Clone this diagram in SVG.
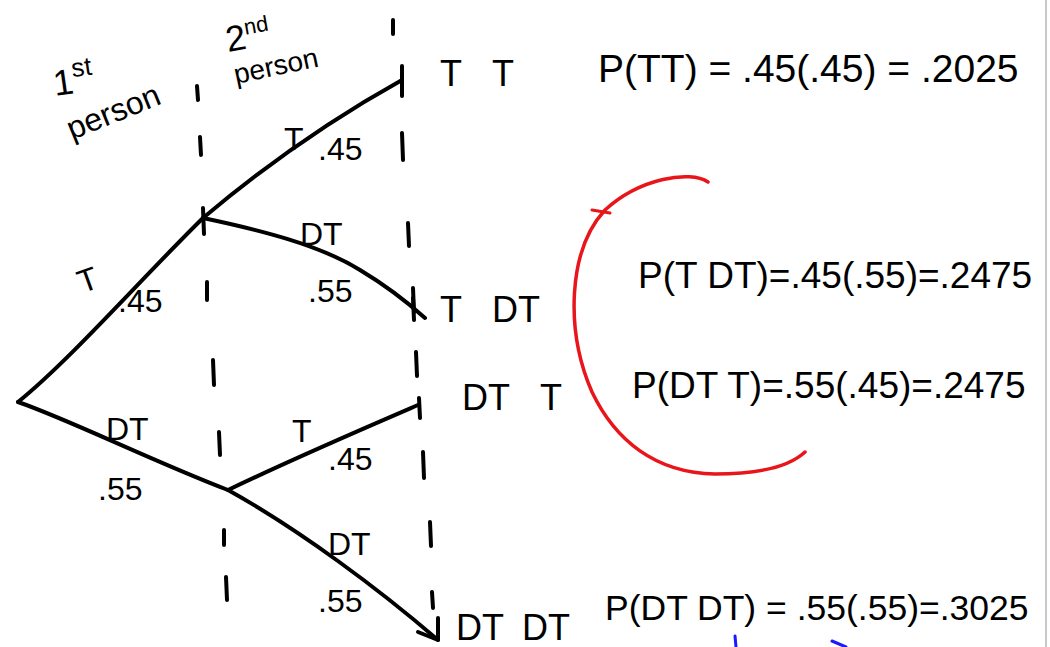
<svg xmlns="http://www.w3.org/2000/svg" width="1050" height="647" viewBox="0 0 1050 647">
<style>
.ink{fill:none;stroke:#000;stroke-width:4;stroke-linecap:round;stroke-linejoin:round}
.dash{fill:none;stroke:#000;stroke-width:4;stroke-linecap:round}
.t{font-family:"Liberation Sans",Arial,sans-serif;fill:#000}
.lab{font-size:32px}
.out{font-size:36px}
</style>
<rect width="1050" height="647" fill="#fff"/>
<line x1="1046" y1="0" x2="1046" y2="647" stroke="#c8c8c8" stroke-width="2"/>

<g id="dividers">
<path class="dash" d="M197 86 L198 100 M200 137 L201 155 M203 208 L204 234 M207 282 L207 300 M213 360 L214 385 M219 432 L220 455 M224 530 L224 545 M226 577 L227 600"/>
<path class="dash" d="M393 20 L393 34 M402 133 L403 160 M408 223 L409 246 M413 288 L414 312 M416 352 L417 376 M423 452 L424 478 M430 522 L431 546 M432 592 L433 608"/>
</g>

<g id="headers">
<text class="t" font-size="36" transform="translate(55,96) rotate(-8)">1<tspan font-size="26" dy="-16">st</tspan></text>
<text class="t" font-size="32" transform="translate(72,140) rotate(-22)">person</text>
<text class="t" font-size="36" transform="translate(228,52) rotate(-10)">2<tspan font-size="22" dy="-14">nd</tspan></text>
<text class="t" font-size="28" transform="translate(236,84) rotate(-12)">person</text>
</g>

<g id="connectors">
<path class="ink" d="M18 402 C70 360 140 280 203 218"/>
<path class="ink" d="M18 402 C70 420 150 460 228 490"/>
<path class="ink" d="M203 218 C260 170 330 120 402 80"/>
<path class="ink" d="M402 66 L402 96"/>
<path class="ink" d="M203 218 C260 230 320 245 360 270 C385 285 405 300 425 318"/>
<path class="ink" d="M413 298 L414 320"/>
<path class="ink" d="M228 490 C290 460 360 430 418 405"/>
<path class="ink" d="M419 398 L420 418"/>
<path class="ink" d="M228 490 C300 530 380 590 438 640"/>
<path class="ink" d="M438 640 L438 618 M438 640 L418 632"/>
</g>

<g id="branch-labels">
<text class="t lab" x="284" y="150">T</text>
<text class="t lab" x="318" y="160">.45</text>
<text class="t lab" x="300" y="245">DT</text>
<text class="t lab" x="308" y="302">.55</text>
<text class="t lab" x="78" y="290" transform="rotate(-20 90 280)">T</text>
<text class="t lab" x="118" y="312">.45</text>
<text class="t lab" x="106" y="440">DT</text>
<text class="t lab" x="98" y="500">.55</text>
<text class="t lab" x="292" y="442">T</text>
<text class="t lab" x="328" y="470">.45</text>
<text class="t lab" x="328" y="555">DT</text>
<text class="t lab" x="318" y="612">.55</text>
</g>

<g id="outcomes">
<text class="t out" y="86"><tspan x="440">T</tspan><tspan x="492">T</tspan></text>
<text class="t out" y="322"><tspan x="440">T</tspan><tspan x="492">DT</tspan></text>
<text class="t out" y="410"><tspan x="462">DT</tspan><tspan x="540">T</tspan></text>
<text class="t out" y="640"><tspan x="456">DT</tspan><tspan x="522">DT</tspan></text>
</g>

<g id="equations">
<text class="t" font-size="39" x="598" y="82">P(TT) = .45(.45) = .2025</text>
<text class="t" font-size="37" x="638" y="288">P(T DT)=.45(.55)=.2475</text>
<text class="t" font-size="37" x="632" y="398">P(DT T)=.55(.45)=.2475</text>
<text class="t" font-size="35.5" x="605" y="620">P(DT DT) = .55(.55)=.3025</text>
</g>

<g id="highlight">
<path d="M708 182 C690 170 640 178 605 210 C568 250 565 330 592 392 C615 440 655 473 715 474 C760 474 790 466 805 452" fill="none" stroke="#e8151b" stroke-width="3.5" stroke-linecap="round"/>
<path d="M592 210 L610 213" fill="none" stroke="#e8151b" stroke-width="3" stroke-linecap="round"/>
</g>

<g id="marks">
<path d="M735 636 L736 647 M832 641 L846 647" fill="none" stroke="#1a1aff" stroke-width="3" stroke-linecap="round"/>
</g>
</svg>
